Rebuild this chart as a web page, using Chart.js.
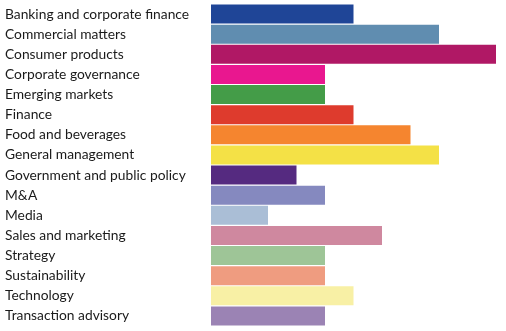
<!DOCTYPE html>
<html>
<head>
<meta charset="utf-8">
<script src="https://cdn.jsdelivr.net/npm/chart.js@4"></script>
<style>
  html, body { margin: 0; padding: 0; background: #fff; }
  #wrap { width: 506px; height: 331px; }
</style>
</head>
<body>
<div id="wrap"><canvas id="sectorChart"></canvas></div>
<script>
// Sectors and the number of entries per sector
const sectors = [
    "Banking and corporate finance",
    "Commercial matters",
    "Consumer products",
    "Corporate governance",
    "Emerging markets",
    "Finance",
    "Food and beverages",
    "General management",
    "Government and public policy",
    "M&A",
    "Media",
    "Sales and marketing",
    "Strategy",
    "Sustainability",
    "Technology",
    "Transaction advisory"
];
const counts = [5, 8, 10, 4, 4, 5, 7, 8, 3, 4, 2, 6, 4, 4, 5, 4];
const sectorColors = [
    "#1f4597", "#608db0", "#b01865", "#e9178f",
    "#449c48", "#de3b2d", "#f5852f", "#f4e146",
    "#552a80", "#8589bf", "#aabed6", "#cf889f",
    "#9ec597", "#ef9c80", "#f8f0a5", "#9b83b4"
];

const ctx = document.getElementById("sectorChart").getContext("2d");

new Chart(ctx, {
    type: "bar",
    data: {
        labels: sectors,
        datasets: [{
            data: counts,
            backgroundColor: sectorColors,
            borderWidth: 0,
            barPercentage: 0.94,
            categoryPercentage: 1.0
        }]
    },
    options: {
        indexAxis: "y",
        responsive: true,
        maintainAspectRatio: false,
        animation: false,
        layout: { padding: { left: 5, right: 10, top: 4, bottom: 5 } },
        plugins: {
            legend: { display: false },
            tooltip: { enabled: false }
        },
        scales: {
            x: { display: false, min: 0, max: 10 },
            y: {
                grid: { display: false, drawTicks: false },
                border: { display: false },
                ticks: {
                    crossAlign: "far",
                    padding: 0,
                    color: "#1a1a1a",
                    font: { family: "Lato", size: 13.8, lineHeight: 0.1 }
                },
                // fixed label column so bars start at the same x
                afterFit: function (scale) { scale.width = 206; }
            }
        }
    }
});
</script>
</body>
</html>
